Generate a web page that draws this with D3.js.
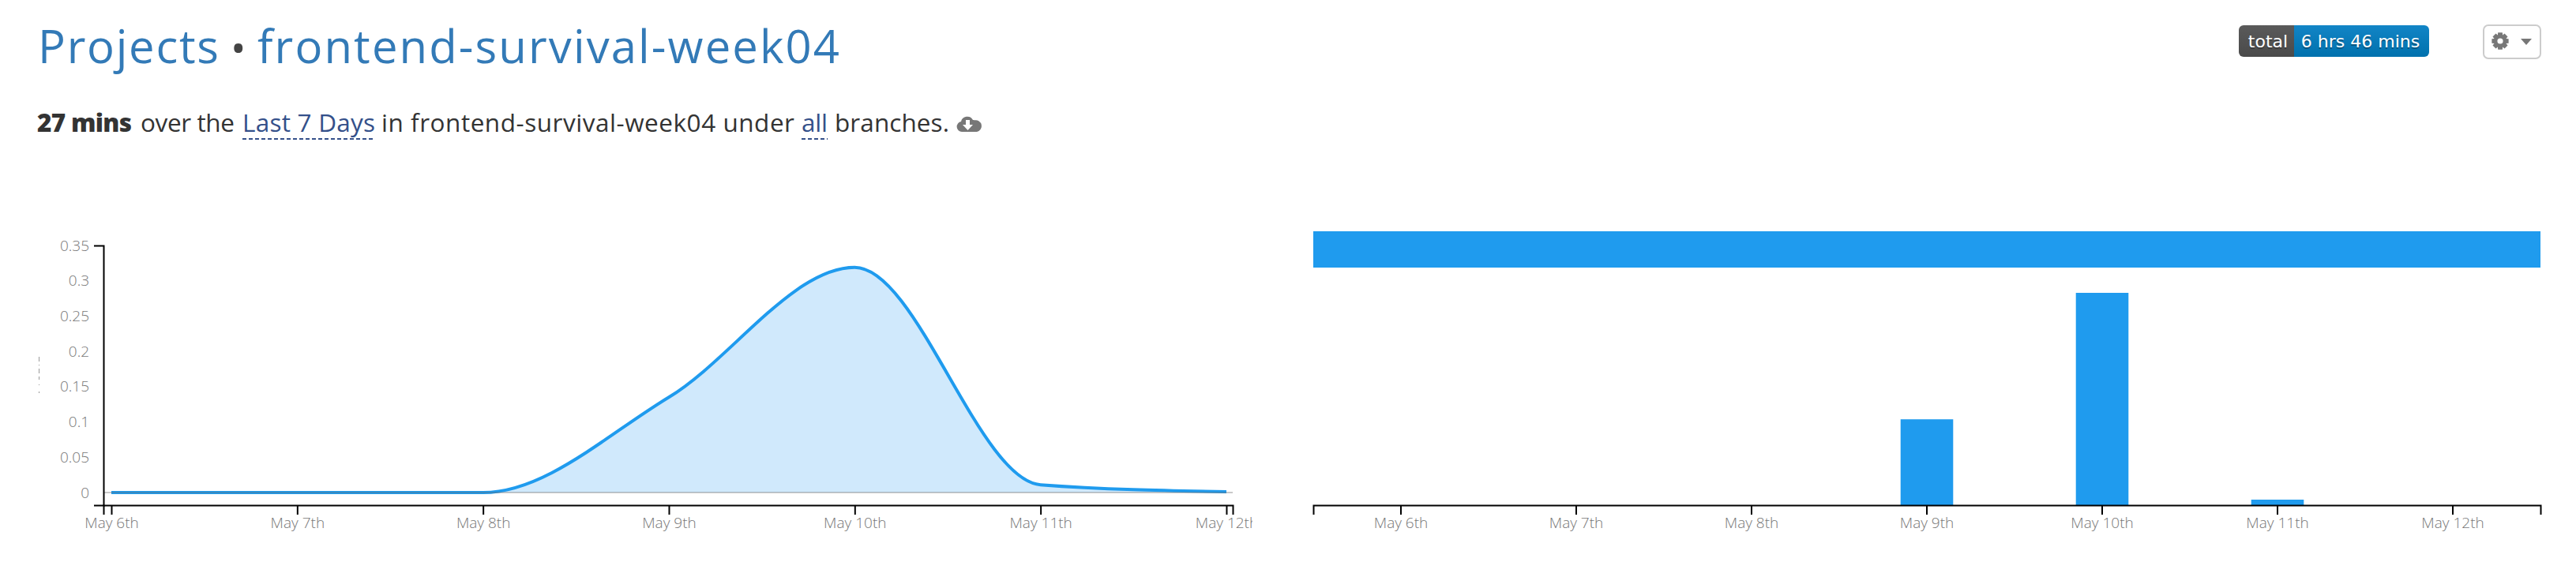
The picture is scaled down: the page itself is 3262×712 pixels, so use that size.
<!DOCTYPE html>
<html><head><meta charset="utf-8">
<script src="https://cdn.jsdelivr.net/npm/d3@7/dist/d3.min.js"></script>
<style>
html,body{margin:0;padding:0;background:#fff;overflow:hidden}
svg{display:block}
.ax text{font-family:"Open Sans",sans-serif;font-weight:300;font-size:19px;fill:#777}
</style></head><body>
<script>
const dayLabels=["May 6th","May 7th","May 8th","May 9th","May 10th","May 11th","May 12th"];
const dayDates=[6,7,8,9,10,11,12].map(d=>new Date(2018,4,d));
const lineValues=[0,0,0,0.135,0.319,0.011,0.001];
const barValues=[0,0,0,0.129,0.319,0.0083,0];
const yTickValues=[0,0.05,0.1,0.15,0.2,0.25,0.3,0.35];
const yTickLabels=["0","0.05","0.1","0.15","0.2","0.25","0.3","0.35"];
const blue="#1f9bee";

const svg=d3.select("body").append("svg").attr("width",3262).attr("height",712);
const defs=svg.append("defs");
function grad(id,a,b){const g=defs.append("linearGradient").attr("id",id).attr("x1",0).attr("x2",0).attr("y1",0).attr("y2",1);
 g.append("stop").attr("offset",0).attr("stop-color",a);g.append("stop").attr("offset",1).attr("stop-color",b);}
grad("gGrey","#5a5a5a","#4a4a4a");grad("gBlue","#1285c6","#0071ad");

function fit(sel,w){const n=sel.node();const len=n.getComputedTextLength();const c=n.getNumberOfChars();sel.attr("letter-spacing",(w-len)/(c-1));}
const head='"Open Sans", sans-serif';
function seg(s,x,y,size,fill,weight,w){const e=svg.append("text").attr("x",x).attr("y",y).attr("font-family",head).attr("font-size",size).attr("font-weight",weight).attr("fill",fill).text(s);if(w)fit(e,w);return e;}

// title
seg("Projects",48,80,58,"#337ab7",400,229);
seg("•",292,80,52,"#444",400);
seg("frontend-survival-week04",326,80,58,"#337ab7",400,737);

// subtitle
seg("27 mins",47,167,31.5,"#333",800,120);
seg("over the",178,167,31.5,"#333",400,119);
seg("Last 7 Days",307,167,31.5,"#34508a",400,168);
seg("in frontend-survival-week04 under",483,167,31.5,"#333",400,523);
seg("all",1015,167,31.5,"#34508a",400,33);
seg("branches.",1057,167,31.5,"#333",400,145);
function under(x1,x2){svg.append("line").attr("x1",x1).attr("x2",x2).attr("y1",176).attr("y2",176).attr("stroke","#34508a").attr("stroke-width",2).attr("stroke-dasharray","5,3");}
under(307,475);under(1015,1048);
// cloud icon
svg.append("path").attr("fill","#777").attr("d","M1218 167a6.5 6.5 0 0 1-1-12.9a8 8 0 0 1 15-2a6 6 0 0 1 2 .2a7 7 0 0 1 3 14.7z");
svg.append("path").attr("fill","#fff").attr("d","M1223 152h5v6h4l-6.5 7l-6.5-7h4z");

// badge
function roundLeft(x,y,w,h,r){return `M${x+r} ${y}H${x+w}V${y+h}H${x+r}a${r} ${r} 0 0 1-${r}-${r}V${y+r}a${r} ${r} 0 0 1 ${r}-${r}z`;}
function roundRight(x,y,w,h,r){return `M${x} ${y}H${x+w-r}a${r} ${r} 0 0 1 ${r} ${r}V${y+h-r}a${r} ${r} 0 0 1-${r} ${r}H${x}z`;}
svg.append("path").attr("d",roundLeft(2835,32,70,40,6)).attr("fill","url(#gGrey)");
svg.append("path").attr("d",roundRight(2905,32,171,40,6)).attr("fill","url(#gBlue)");
[["total",2872],["6 hrs 46 mins",2989]].forEach(([s,x])=>{
 [["#1a1a1a",2,.35],["#fff",0,1]].forEach(([c,dy,o])=>svg.append("text").attr("x",x).attr("y",60+dy).attr("text-anchor","middle")
  .attr("font-family","DejaVu Sans").attr("font-size",22).attr("fill",c).attr("opacity",o).text(s));
});
// settings button
svg.append("rect").attr("x",3145).attr("y",32).attr("width",72).attr("height",42).attr("rx",6).attr("fill","#fff").attr("stroke","#ccc").attr("stroke-width",2);
const gear=d3.path();const cx=3166,cy=52;
for(let i=0;i<8;i++){const a=i*Math.PI/4,b=.26,R=11,r=8.2;
 const p=(rad,ang)=>[cx+rad*Math.cos(ang),cy+rad*Math.sin(ang)];
 const q=[p(r,a-b*1.5),p(R,a-b),p(R,a+b),p(r,a+b*1.5)];
 q.forEach((c,j)=>(i===0&&j===0)?gear.moveTo(...c):gear.lineTo(...c));}
gear.closePath();
svg.append("path").attr("d",gear.toString()).attr("fill","#777");
svg.append("circle").attr("cx",cx).attr("cy",cy).attr("r",3.6).attr("fill","#fff");
svg.append("path").attr("d","M3192 49h14l-7 8z").attr("fill","#777");

// left chart
const left=svg.append("svg").attr("x",0).attr("y",0).attr("width",1586).attr("height",712);
const hr=3600e3;
const xL=d3.scaleTime().domain([+dayDates[0]-1.02*hr,+dayDates[6]+0.82*hr]).range([131,1561]);
const yL=d3.scaleLinear().domain([-0.0179,0.35]).range([640,311]);
const pts=dayDates.map((d,i)=>({d,v:lineValues[i]}));
left.append("path").datum(pts).attr("fill","#d0e9fc")
 .attr("d",d3.area().x(p=>xL(p.d)).y0(yL(0)).y1(p=>yL(p.v)).curve(d3.curveMonotoneX));
left.append("path").datum(pts).attr("fill","none").attr("stroke",blue).attr("stroke-width",4)
 .attr("d",d3.line().x(p=>xL(p.d)).y(p=>yL(p.v)).curve(d3.curveMonotoneX));
left.append("line").attr("x1",131).attr("x2",1561).attr("y1",yL(0)).attr("y2",yL(0)).attr("stroke","#666").attr("stroke-opacity",.7);

function styleAxis(g){g.attr("class","ax");g.selectAll("path,line").attr("stroke","#000").attr("stroke-width",2).attr("fill","none");}
left.append("g").attr("transform","translate(0,640)")
 .call(d3.axisBottom(xL).tickValues(dayDates).tickFormat((d,i)=>dayLabels[i]).tickSizeInner(12).tickSizeOuter(12).tickPadding(4))
 .call(styleAxis);
left.append("g").attr("transform","translate(131,0)")
 .call(d3.axisLeft(yL).tickValues(yTickValues).tickFormat((d,i)=>yTickLabels[i]).tickSizeInner(0).tickSizeOuter(12).tickPadding(18))
 .call(styleAxis);
// y title remnant
left.append("line").attr("x1",49.5).attr("x2",49.5).attr("y1",452).attr("y2",498).attr("stroke","#999").attr("stroke-dasharray","6,4,1,4,6,4,4,6,1,8");

// right chart
const xR=d3.scaleBand().domain(dayLabels).range([1663,3217]).paddingInner(0.7).paddingOuter(0.35);
const yR=d3.scaleLinear().domain([0,0.319]).range([640,371]);
svg.append("rect").attr("x",1663).attr("y",293).attr("width",1554).attr("height",46).attr("fill",blue);
svg.selectAll("rect.bar").data(barValues).join("rect").attr("class","bar")
 .attr("x",(v,i)=>xR(dayLabels[i])).attr("width",xR.bandwidth())
 .attr("y",v=>yR(v)).attr("height",v=>yR(0)-yR(v)).attr("fill",blue);
svg.append("g").attr("transform","translate(0,640)")
 .call(d3.axisBottom(xR).tickSizeInner(12).tickSizeOuter(12).tickPadding(4))
 .call(styleAxis);
</script></body></html>
